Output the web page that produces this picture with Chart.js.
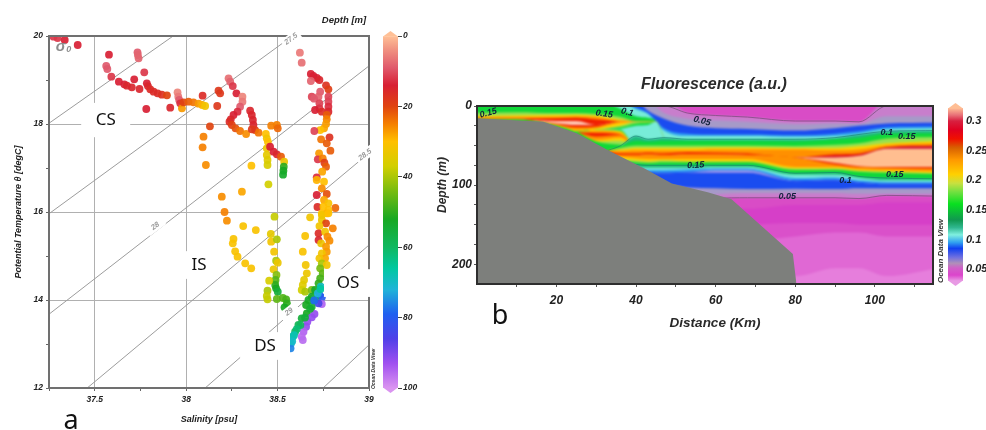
<!DOCTYPE html>
<html>
<head>
<meta charset="utf-8">
<style>
  html, body { margin: 0; padding: 0; background: #fff; overflow: hidden; width: 986px; height: 430px; }
  .box { position: absolute; top: 0; height: 430px; }
  canvas { filter: blur(0.55px); }
  #fieldClip { position: absolute; left: 477px; top: 106px; width: 456px; height: 178px; overflow: hidden; }
  #fieldInner { position: absolute; left: -4px; top: -4px; width: 464px; height: 186px; }
  #field { filter: blur(1.1px); }
</style>
<script src="https://cdn.jsdelivr.net/npm/chart.js@4/dist/chart.umd.min.js"></script>
</head>
<body>
<div class="box" style="left:0;width:380px"><canvas id="ts"></canvas></div>
<div class="box" style="left:378px;width:52px"><canvas id="depthBar"></canvas></div>
<div id="fieldClip"><div id="fieldInner"><canvas id="field"></canvas></div></div>
<div class="box" style="left:430px;width:515px"><canvas id="section"></canvas></div>
<div class="box" style="left:944px;width:42px"><canvas id="fluorBar"></canvas></div>
<script>
// panel a: samples
const salinity = [
  37.275,37.297,37.336,37.407,37.578,37.734,37.736,37.740,37.563,37.569,
  37.591,37.632,37.662,37.676,37.703,37.716,37.745,37.771,37.785,37.791,
  37.804,37.822,37.844,37.867,37.895,37.782,37.913,37.953,37.957,37.962,
  37.968,37.977,37.986,38.013,38.040,38.068,38.088,38.104,38.090,38.177,
  38.186,38.170,38.232,38.241,38.255,38.275,38.308,38.308,38.295,38.281,
  38.259,38.244,38.237,38.250,38.270,38.295,38.328,38.350,38.359,38.365,
  38.368,38.377,38.396,38.359,38.130,38.095,38.090,38.108,38.436,38.441,
  38.447,38.441,38.441,38.445,38.445,38.459,38.478,38.496,38.519,38.536,
  38.534,38.532,38.530,38.465,38.496,38.501,38.357,38.450,38.305,38.195,
  38.210,38.223,38.312,38.381,38.483,38.463,38.465,38.496,38.259,38.255,
  38.268,38.281,38.323,38.356,38.481,38.492,38.501,38.478,38.494,38.489,
  38.487,38.492,38.501,38.454,38.445,38.441,38.445,38.496,38.529,38.547,
  38.551,38.538,38.678,38.651,38.638,38.654,38.660,38.645,38.638,38.632,
  38.651,38.687,38.622,38.632,38.682,38.696,38.715,38.729,38.682,38.765,
  38.778,38.733,38.724,38.687,38.700,38.778,38.778,38.778,38.778,38.729,
  38.729,38.705,38.742,38.769,38.769,38.765,38.754,38.733,38.701,38.784,
  38.738,38.769,38.789,38.727,38.720,38.747,38.756,38.765,38.744,38.714,
  38.714,38.754,38.742,38.714,38.769,38.754,38.778,38.718,38.816,38.751,
  38.778,38.742,38.769,38.742,38.778,38.742,38.765,38.802,38.729,38.724,
  38.760,38.773,38.724,38.784,38.738,38.765,38.769,38.742,38.760,38.729,
  38.742,38.769,38.733,38.747,38.733,38.724,38.736,38.705,38.729,38.687,
  38.742,38.669,38.705,38.656,38.687,38.742,38.724,38.660,38.702,38.687,
  38.632,38.614,38.663,38.656,38.642,38.632,38.638,38.596,38.583,38.574,
  38.571,38.678,38.650,38.720,38.735,38.700,38.625,38.605,38.590,38.580
];
const theta = [
  19.985,19.954,19.909,19.795,19.576,19.629,19.568,19.492,19.318,19.250,
  19.076,18.962,18.901,18.871,18.833,19.015,18.795,19.174,18.924,18.863,
  18.788,18.735,18.697,18.666,18.651,18.341,18.371,18.720,18.621,18.545,
  18.470,18.356,18.492,18.507,18.492,18.462,18.432,18.409,18.644,18.757,
  18.697,18.409,19.038,18.962,18.863,18.697,18.621,18.507,18.394,18.280,
  18.204,18.106,18.053,17.977,17.901,17.841,17.773,18.303,18.204,18.091,
  17.977,17.863,17.803,17.879,17.947,17.712,17.470,17.068,17.773,17.674,
  17.598,17.447,17.295,17.182,17.068,17.485,17.371,17.310,17.257,17.144,
  17.030,16.939,16.848,17.962,17.977,17.901,17.053,16.629,16.462,16.348,
  16.000,15.803,15.681,15.590,15.894,15.500,15.325,15.378,15.386,15.287,
  15.106,14.984,14.833,14.719,15.098,14.893,14.848,14.697,14.568,14.454,
  14.341,14.265,14.189,14.439,14.212,14.091,14.015,14.023,14.045,14.015,
  13.924,13.833,15.878,15.454,15.098,14.795,14.606,14.454,14.341,14.227,
  14.189,14.227,19.621,19.394,19.136,19.091,19.045,19.000,18.977,18.879,
  18.788,18.735,18.621,18.621,18.576,18.621,18.507,18.394,18.280,18.470,
  18.356,18.318,18.280,18.205,18.106,18.000,17.901,17.863,17.841,17.697,
  17.651,17.561,17.394,17.333,17.197,17.220,17.121,17.030,16.917,16.788,
  16.727,16.689,16.538,16.386,16.409,16.273,16.197,16.114,16.091,16.121,
  16.045,15.970,15.970,15.932,15.970,15.818,15.742,15.628,15.681,15.515,
  15.553,15.439,15.363,15.348,15.287,15.212,15.098,15.060,14.947,14.947,
  14.833,14.795,14.719,14.606,14.492,14.379,14.303,14.227,14.114,14.076,
  14.060,14.000,14.000,13.886,13.848,13.909,13.924,13.697,13.682,13.606,
  13.583,13.432,13.507,13.394,13.280,13.166,13.091,13.280,13.166,13.015,
  12.901,13.800,13.600,14.150,14.250,13.990,13.430,13.340,13.200,13.060
];
const sampleDepth = [
  12,12,14,14,14,9,8,8,9,9,
  12,14,14,15,15,14,15,12,14,15,
  16,16,16,17,20,14,15,5,6,9,
  13,27,20,22,24,27,29,32,16,18,
  18,18,7,8,12,14,5,6,9,13,
  14,15,16,19,21,24,26,15,15,15,
  15,19,24,18,20,25,25,26,30,32,
  30,33,34,35,36,14,14,15,22,33,
  50,52,53,25,25,23,30,37,28,26,
  25,26,31,31,38,34,32,40,31,31,
  31,31,31,31,32,40,33,33,43,47,
  50,52,55,36,40,38,38,46,47,48,
  50,52,32,31,31,32,33,34,35,37,
  40,44,6,7,14,14,14,15,8,17,
  19,9,8,11,9,11,11,13,15,11,
  12,14,16,22,25,27,28,30,11,17,
  24,22,22,27,12,25,19,22,28,13,
  29,30,26,14,21,28,31,16,23,30,
  30,30,29,32,30,33,20,25,32,16,
  32,26,15,26,33,27,27,32,28,32,
  40,32,44,46,48,50,70,53,78,53,
  80,53,60,52,54,95,85,52,92,92,
  55,58,92,92,95,96,96,60,65,72,
  76,54,55,72,66,78,60,62,68,70
];

// isopycnals as [S0, T0, S1, T1]
const sigmaLines = [
  [37.251,18.02,37.929,20],
  [37.253,15.97,38.581,20],
  [37.251,13.68,39,19.32],
  [37.459,12,39,17.34],
  [38.104,12,39,15.25],
  [38.749,12,39,12.98]
];
const sigmaLabels = [["27.5",38.574,19.93],["28",37.831,15.68],["28.5",38.978,17.30],["29",38.563,13.73]];
// water masses: name, S range, T range
const waterMasses = [
  ["CS",37.426,37.694,18.48,17.70],
  ["IS",37.967,38.175,15.11,14.48],
  ["OS",38.754,39.016,14.70,14.07],
  ["DS",38.295,38.568,13.27,12.64]
];

const salinityTicks = [37.25,37.5,37.75,38,38.25,38.5,38.75,39];
const thetaTicks = [12,13,14,15,16,17,18,19,20];
const depthBarTicks = [0,20,40,60,80,100];
const fluorBarTicks = [0.05,0.1,0.15,0.2,0.25,0.3];
const distanceTicks = [10,20,30,40,50,60,70,80,90,100,110];
const sectionDepthTicks = [0,25,50,75,100,125,150,175,200];

const depthStopValues = [0,4,9,14,20,25,30,37,44,52,60,66,72,79,86,93,100];
const depthStopColors = ["#ffc096","#f09080","#e05a6c","#d82034","#e04410","#f58000","#ffc000","#d2cf00","#78bc10","#18a822","#10b860","#00c8a0","#20b4d8","#2060f0","#5040e8","#a050f0","#da94f0"];
const fluorStopValues = [0.03,0.04,0.052,0.06,0.07,0.085,0.095,0.108,0.12,0.133,0.16,0.18,0.195,0.21,0.235,0.255,0.27,0.285,0.3,0.31,0.322];
const fluorStopColors = ["#e89ae4","#dc44cc","#d060c8","#b090b8","#7070e0","#1040f0","#30a0f0","#80f0e0","#30b890","#109850","#08e020","#70e040","#c8e040","#ffd000","#ff9800","#d86000","#f01000","#e00020","#d82040","#e87078","#ffbe94"];

// panel b: top depth of each colour band, read column by column
const midKm = [33,36,40,43,47,53,60,68,80,90,96,103,116];
const magentaTop = [0,0,0,0,0,0,0,0,0,0,0,0,0];
const lilacTop = [0,0,0,0,0,9,12,14,19,19,20,0,0];
const violetTop = [0,0,0,0,9,16,18,20,23,22,22,13,13];
const blueTop = [0,0,0,6,16,25,28,29,31,28,25,22,21];
const skyTop = [0,0,2,9,28,35,36,36,37,35,32,27,26];
const cyanTop = [0,0,4,10,31,38,38,38,39,38,35,29.5,28];

const leftKm = [-2,10,20,25,30,36,40,43,45,47];
const green1Top = [0,0,0,0,0,3,13,15,19,40];
const lime1Top = [9,8,9,9,10,13.5,19,19,19.5,40];
const yellow1Top = [13,12,11.5,11,12,17,19,19,19.5,40];
const orange1Top = [14,14,13.5,13,14,19,19,19,19.5,40];
const red1Top = [16,16,15.5,15,17,19,19,19,19.5,40];
const coreTop = [17,17,19,19,24,19.5,19.5,19.5,19.5,40];
const red2Top = [17,17,22,24,24,19.5,19.5,19.5,19.5,40];
const orange2Top = [17,17,23,27,26,19.5,19.5,19.5,19.5,40];
const yellow2Top = [17,17,24,30,28,21,19.5,19.5,19.5,40];
const lime2Top = [17,17,25,32,30,25,19.5,19.5,19.5,40];
const green2Top = [17,17,25,32,30,27,22,21,19.5,40];
const cyan2Top = [17,17,25,32,30,29,25,24,19.5,40];
const green3Top = [17,17,25,32,30,30,50,50,50,50];
const yellow3Top = [17,17,25,33,30,31.5,50,50,50,50];
const orange3Top = [17,17,25,33,31.6,34,50,50,50,50];
const red3Top = [17,17,25,33,34,36,50,50,50,50];
const orange4Top = [17,17,25,33,38.5,36.5,50,50,50,50];
const yellow4Top = [17,17,25,33,43,40,50,50,50,50];
const lime4Top = [17,17,25,33,45,44,50,50,50,50];
const green4Top = [17,17,25,33,45,49,50,50,50,50];

const tealTop = [56,50.5,38,42,40,42,42,42,42,40,36,32,31];
const greenTop = [56,51,44,45,44,44,44,44,44.5,42,40,35,34.5];
const limeTop = [56,53,50,50,50,50,50,50,50.5,49,47,41,39];
const yellowTop = [56,55,53,53,53,53,52.5,52.5,53,53,51,47,44];
const orangeTop = [56,57,56,56,56,56,55,55,55,56,55,49.5,47];
const redTop = [58,60,60,59,60,58.5,59,60,65,61,60,52,50];
const crimsonTop = [62,62,62,61,62,61,61,62,65,63,61.5,52.5,50.5];
const peachTop = [62,62,62,61,62,61,61,62,65,65,63,54,54];
const red6Top = [62,62,62,61,62,61,61,62,65,72,76,77,77];
const orange6Top = [62,62,62,61,62,61,61,62,65,74,77,78,79];
const yellow6Top = [62,64,66,67,67,67,67,67,77,77,80,81,83];
const lime6Top = [62.5,67,69,70,69,70,70,70,79,79,82,83,85];
const green6Top = [63,69,71,72,71,71,71,71,81,80.5,83,84.5,86];
const teal6Top = [64,71,74,75,75,75,75,75,85,84,89,91,92];
const cyan6Top = [65,72,77,78,78,78,77,77,87,87,91,94,94];
const sky6Top = [66,73,79,81,81,80,79,79,91,90,94,96,96];
const blue6Top = [67,74,80,83,84,83,80.5,80.5,94,93,96,98,98];
const patchEdgeTop = [68,75,81,84,85,84,81,81,95,94,97,99,99];
const patchTop = [68,75,81,84,85,84,82,82,95,94,97,99,99];
const blue7Top = [68,75,81,84,85,84,84.5,84.5,95,94,97,99,99];
const violet7Top = [100,100,100,100,100,103,104,105,104.5,105,104,104,104];
const lilac7Top = [120,120,120,120,120,120,112,110,110,110,111,111,111];
const magenta7Top = [122,122,122,122,122,122,117,116,116,116,117,113,114];
const deepMagentaTop = [130,130,130,130,130,130,130,130,125,125,125,122,122];
const midMagentaTop = [150,150,150,150,150,150,150,150,148,148,150,150,150];
const paleMagentaTop = [170,170,170,170,170,170,170,170,165,160,160,165,165];
const palestMagentaTop = [215,215,215,215,215,215,215,215,215,205,205,215,205];

const bottomKm = [-2,16.7,25,33,42.5,49,58,64,79.4,80.3];
const bottomDepth = [15,20,34,56,80,98,109,118,187,225];

const contourLabels = [
  ["0.15",2.9,9,-15],["0.15",32,10,8],["0.1",37.8,8,15],["0.05",56.6,19,15],["0.15",55,75,-3],
  ["0.05",78,114,0],["0.1",92.6,94,0],["0.15",105,86,0],["0.1",103,33,0],["0.15",108,38,0]
];

const bandColors = {
  magenta:"#d94cc6", lilac:"#c87ecc", violet:"#a69ac8", blue:"#1a4cf0", sky:"#30a0f0", cyan:"#78ecd8",
  teal:"#20b880", green:"#10d838", lime:"#98e050", yellow:"#ffd000", orange:"#ff9000", red:"#f02000",
  crimson:"#d01838", core:"#ffc8b4", peach:"#ffbe90", patchEdge:"#5898f0", patch:"#a898e8",
  deepMagenta:"#d63fc8", midMagenta:"#da50ca", paleMagenta:"#e068d4", palestMagenta:"#e67edc", gray:"#7d7f7c"
};

// painted in this order, each band filled down to the plot bottom
const bands = [
  ["magenta",midKm,magentaTop],["lilac",midKm,lilacTop],["violet",midKm,violetTop],["blue",midKm,blueTop],["sky",midKm,skyTop],["cyan",midKm,cyanTop],
  ["green",leftKm,green1Top],["lime",leftKm,lime1Top],["yellow",leftKm,yellow1Top],["orange",leftKm,orange1Top],["red",leftKm,red1Top],["core",leftKm,coreTop],
  ["red",leftKm,red2Top],["orange",leftKm,orange2Top],["yellow",leftKm,yellow2Top],["lime",leftKm,lime2Top],["green",leftKm,green2Top],["cyan",leftKm,cyan2Top],
  ["green",leftKm,green3Top],["yellow",leftKm,yellow3Top],["orange",leftKm,orange3Top],["red",leftKm,red3Top],["orange",leftKm,orange4Top],["yellow",leftKm,yellow4Top],
  ["lime",leftKm,lime4Top],["green",leftKm,green4Top],
  ["teal",midKm,tealTop],["green",midKm,greenTop],["lime",midKm,limeTop],["yellow",midKm,yellowTop],["orange",midKm,orangeTop],["red",midKm,redTop],
  ["crimson",midKm,crimsonTop],["peach",midKm,peachTop],["red",midKm,red6Top],["orange",midKm,orange6Top],["yellow",midKm,yellow6Top],["lime",midKm,lime6Top],
  ["green",midKm,green6Top],["teal",midKm,teal6Top],["cyan",midKm,cyan6Top],["sky",midKm,sky6Top],["blue",midKm,blue6Top],["patchEdge",midKm,patchEdgeTop],
  ["patch",midKm,patchTop],["blue",midKm,blue7Top],["violet",midKm,violet7Top],["lilac",midKm,lilac7Top],["magenta",midKm,magenta7Top],
  ["deepMagenta",midKm,deepMagentaTop],["midMagenta",midKm,midMagentaTop],["paleMagenta",midKm,paleMagentaTop],["palestMagenta",midKm,palestMagentaTop]
];
const contourLines = [lilacTop, magenta7Top];
const tealContours = [tealTop, teal6Top];

const sans = '"Liberation Sans", Arial, sans-serif';
Chart.defaults.font.family = sans;
Chart.defaults.font.style = "italic";
Chart.defaults.font.weight = "bold";
Chart.defaults.color = "#222";
Chart.defaults.animation = false;
Chart.defaults.plugins.legend.display = false;
Chart.defaults.plugins.tooltip.enabled = false;
Chart.defaults.responsive = true;
Chart.defaults.maintainAspectRatio = false;

const hexToRgb = (hex) => [1, 3, 5].map((i) => parseInt(hex.slice(i, i + 2), 16));

const depthColor = (depth) => {
  let i = 0;
  while (i < depthStopValues.length - 2 && depth > depthStopValues[i + 1]) i++;
  const f = (depth - depthStopValues[i]) / (depthStopValues[i + 1] - depthStopValues[i]);
  const a = hexToRgb(depthStopColors[i]);
  const b = hexToRgb(depthStopColors[i + 1]);
  return `rgba(${a.map((c, k) => Math.round(c + (b[k] - c) * f)).join(",")},0.92)`;
};

const drawText = (ctx, text, x, y, font, color, angle) => {
  ctx.save();
  ctx.translate(x, y);
  ctx.rotate(((angle || 0) * Math.PI) / 180);
  ctx.font = font;
  ctx.fillStyle = color || "#222";
  ctx.textAlign = "center";
  ctx.textBaseline = "middle";
  ctx.fillText(text, 0, 0);
  ctx.restore();
};

const setTicks = (values) => (scale) => {
  scale.ticks = values.map((value) => ({ value }));
};

const fixedWidth = (w) => (scale) => { scale.width = w; };
const fixedHeight = (h) => (scale) => { scale.height = h; };

const zipped = (xs, ys) => xs.map((x, i) => ({ x, y: ys[i] }));

new Chart(document.getElementById("ts"), {
  type: "scatter",
  data: {
    datasets: [
      {
        data: zipped(salinity, theta),
        pointRadius: 3.9,
        pointBorderWidth: 0,
        pointBackgroundColor: sampleDepth.map(depthColor),
        order: 1
      },
      ...sigmaLines.map((l) => ({
        data: [{ x: l[0], y: l[1] }, { x: l[2], y: l[3] }],
        showLine: true,
        pointRadius: 0,
        borderColor: "#9c9c9c",
        borderWidth: 1,
        order: 2
      }))
    ]
  },
  options: {
    layout: { padding: { left: 13.5, top: 36, right: 11, bottom: 5 } },
    scales: {
      x: {
        type: "linear",
        min: 37.25,
        max: 39,
        afterBuildTicks: setTicks(salinityTicks),
        afterFit: fixedHeight(37),
        border: { display: false },
        grid: {
          color: (c) => ([37.5, 38, 38.5].includes(c.tick && c.tick.value) ? "#b0b0b0" : "transparent"),
          tickColor: "#666",
          tickLength: 3
        },
        ticks: {
          font: { size: 8.5 },
          padding: 4,
          maxRotation: 0,
          autoSkip: false,
          callback: (v) => (v % 0.5 === 0 ? v : "")
        },
        title: { display: true, text: "Salinity [psu]", font: { size: 9 }, padding: { top: 0, bottom: 0 } }
      },
      y: {
        min: 12,
        max: 20,
        afterBuildTicks: setTicks(thetaTicks),
        afterFit: fixedWidth(35.5),
        border: { display: false },
        grid: {
          color: (c) => ([14, 16, 18].includes(c.tick && c.tick.value) ? "#b0b0b0" : "transparent"),
          tickColor: "#666",
          tickLength: 3
        },
        ticks: {
          font: { size: 8.5 },
          padding: 3,
          autoSkip: false,
          callback: (v) => (v % 2 === 0 ? v : "")
        },
        title: { display: true, text: "Potential Temperature θ [degC]", font: { size: 9 }, padding: { top: 0, bottom: 0 } }
      }
    }
  },
  plugins: [{
    id: "tsOverlay",
    afterDraw(chart) {
      const { ctx, chartArea: a, scales: { x, y } } = chart;
      ctx.save();
      ctx.strokeStyle = "#707070";
      ctx.lineWidth = 2;
      ctx.strokeRect(a.left, a.top, a.width, a.height);
      sigmaLabels.forEach(([t, s, th]) => {
        const px = x.getPixelForValue(s);
        const py = y.getPixelForValue(th);
        ctx.save();
        ctx.translate(px, py);
        ctx.rotate((-37 * Math.PI) / 180);
        ctx.fillStyle = "#fff";
        ctx.fillRect(-10, -5, 20, 10);
        ctx.restore();
        drawText(ctx, t, px, py, `italic bold 7.5px ${sans}`, "#9a9a9a", -37);
      });
      const sx = x.getPixelForValue(37.33);
      const sy = y.getPixelForValue(19.75);
      drawText(ctx, "σ", sx - 3, sy, `italic bold 15px ${sans}`, "#8c8c8c");
      drawText(ctx, "0", sx + 5, sy + 3, `italic bold 9px ${sans}`, "#8c8c8c");
      waterMasses.forEach(([t, s0, s1, t0, t1]) => {
        const x0 = x.getPixelForValue(s0);
        const x1 = x.getPixelForValue(s1);
        const y0 = y.getPixelForValue(t0);
        const y1 = y.getPixelForValue(t1);
        ctx.fillStyle = "#fff";
        ctx.fillRect(x0, y0, x1 - x0, y1 - y0);
        drawText(ctx, t, (x0 + x1) / 2, (y0 + y1) / 2, `normal 17px "Noto Sans", sans-serif`, "#111");
      });
      drawText(ctx, "a", 71, 421, `normal 27px "Noto Sans", sans-serif`, "#111");
      drawText(ctx, "Depth [m]", 344, 20, `italic bold 9.5px ${sans}`, "#222");
      drawText(ctx, "Ocean Data View", 374, 369, `italic bold 5px ${sans}`, "#333", -90);
      ctx.restore();
    }
  }]
});

const gradientBar = (stops, colors) => (c) => {
  const { chart } = c;
  const y = chart.scales.y;
  if (!chart.chartArea || !y) return "transparent";
  const p0 = y.getPixelForValue(stops[0]);
  const p1 = y.getPixelForValue(stops[stops.length - 1]);
  if (!isFinite(p0) || !isFinite(p1)) return "transparent";
  const grad = chart.ctx.createLinearGradient(0, p0, 0, p1);
  stops.forEach((v, i) => {
    grad.addColorStop((v - stops[0]) / (stops[stops.length - 1] - stops[0]), colors[i]);
  });
  return grad;
};

const barTips = (topColor, bottomColor) => ({
  id: "barTips",
  afterDraw(chart) {
    const { ctx, chartArea: a } = chart;
    const mid = (a.left + a.right) / 2;
    ctx.save();
    ctx.fillStyle = topColor;
    ctx.beginPath();
    ctx.moveTo(a.left, a.top + 0.5);
    ctx.lineTo(mid, a.top - 5);
    ctx.lineTo(a.right, a.top + 0.5);
    ctx.fill();
    ctx.fillStyle = bottomColor;
    ctx.beginPath();
    ctx.moveTo(a.left, a.bottom - 0.5);
    ctx.lineTo(mid, a.bottom + 5);
    ctx.lineTo(a.right, a.bottom - 0.5);
    ctx.fill();
    ctx.restore();
  }
});

new Chart(document.getElementById("depthBar"), {
  type: "bar",
  data: {
    labels: [""],
    datasets: [{
      data: [[0, 100]],
      barPercentage: 1,
      categoryPercentage: 1,
      backgroundColor: gradientBar(depthStopValues, depthStopColors)
    }]
  },
  options: {
    layout: { padding: { left: 5, top: 36, bottom: 42, right: 0 } },
    scales: {
      x: { display: false },
      y: {
        position: "right",
        reverse: true,
        min: 0,
        max: 100,
        afterBuildTicks: setTicks(depthBarTicks),
        afterFit: fixedWidth(32),
        border: { display: false },
        grid: { drawOnChartArea: false, tickColor: "#444", tickLength: 4 },
        ticks: { font: { size: 8.5 }, padding: 1 }
      }
    }
  },
  plugins: [barTips("#ffc096", "#da94f0")]
});

const monotone = { cubicInterpolationMode: "monotone", pointRadius: 0 };

// the colour field sits in its own blurred canvas, 4px wider than the plot box on every side
const overscanSurface = -6;
new Chart(document.getElementById("field"), {
  type: "line",
  data: {
    datasets: bands.map(([name, km, top], i) => ({
      ...monotone,
      data: zipped(km, top.map((z) => (z === 0 ? overscanSurface : z))),
      borderWidth: 0,
      backgroundColor: bandColors[name],
      fill: "start",
      order: bands.length + 1 - i
    }))
  },
  options: {
    layout: { padding: 0 },
    scales: {
      x: { type: "linear", display: false, min: -0.955, max: 115.6 },
      y: { reverse: true, display: false, min: -5.06, max: 230.06 }
    }
  }
});

new Chart(document.getElementById("section"), {
  type: "line",
  data: {
    datasets: [
      {
        data: zipped(bottomKm, bottomDepth),
        pointRadius: 0,
        borderWidth: 0,
        tension: 0,
        backgroundColor: bandColors.gray,
        fill: "start",
        order: 1
      },
      ...contourLines.map((top) => ({
        ...monotone,
        data: zipped(midKm, top),
        borderColor: "#7d4f80",
        borderWidth: 0.8,
        fill: false,
        order: 2
      })),
      ...tealContours.map((top) => ({
        ...monotone,
        data: zipped(midKm, top),
        borderColor: "rgba(20,110,110,0.7)",
        borderWidth: 0.7,
        fill: false,
        order: 2
      }))
    ]
  },
  options: {
    layout: { padding: { left: 7, top: 106, right: 12, bottom: 99 } },
    scales: {
      x: {
        type: "linear",
        min: 0.05,
        max: 114.6,
        afterBuildTicks: setTicks(distanceTicks),
        afterFit: fixedHeight(47),
        border: { display: false },
        grid: { drawOnChartArea: false, tickColor: "#555", tickLength: 3 },
        ticks: {
          font: { size: 12 },
          padding: 6,
          maxRotation: 0,
          autoSkip: false,
          callback: (v) => (v % 20 === 0 ? v : "")
        }
      },
      y: {
        reverse: true,
        min: 0,
        max: 225,
        afterBuildTicks: setTicks(sectionDepthTicks),
        afterFit: fixedWidth(40),
        border: { display: false },
        grid: { drawOnChartArea: false, tickColor: "#555", tickLength: 3 },
        ticks: {
          font: { size: 12 },
          padding: 2,
          autoSkip: false,
          callback: (v) => (v % 100 === 0 ? v : "")
        }
      }
    }
  },
  plugins: [{
    id: "sectionOverlay",
    afterDraw(chart) {
      const { ctx, chartArea: a, scales: { x, y } } = chart;
      ctx.save();
      ctx.strokeStyle = "#2e2e2e";
      ctx.lineWidth = 2;
      ctx.strokeRect(a.left, a.top, a.width, a.height);
      contourLabels.forEach(([t, km, z, angle]) => {
        drawText(ctx, t, x.getPixelForValue(km), y.getPixelForValue(z), `italic bold 9px ${sans}`, "#10203a", angle);
      });
      drawText(ctx, "Fluorescence (a.u.)", 284, 85, `italic bold 16px ${sans}`, "#2a2a2a");
      drawText(ctx, "Distance (Km)", 285, 323, `italic bold 13.5px ${sans}`, "#2a2a2a");
      drawText(ctx, "Depth (m)", 13, 185, `italic bold 12px ${sans}`, "#2a2a2a", -90);
      drawText(ctx, "b", 70, 316, `normal 27px "Noto Sans", sans-serif`, "#111");
      drawText(ctx, "Ocean Data View", 511, 251, `italic bold 8px ${sans}`, "#333", -90);
      ctx.restore();
    }
  }]
});

new Chart(document.getElementById("fluorBar"), {
  type: "bar",
  data: {
    labels: [""],
    datasets: [{
      data: [[0.03, 0.322]],
      barPercentage: 1,
      categoryPercentage: 1,
      backgroundColor: gradientBar(fluorStopValues, fluorStopColors)
    }]
  },
  options: {
    layout: { padding: { left: 4, top: 108, bottom: 149, right: 0 } },
    scales: {
      x: { display: false },
      y: {
        position: "right",
        min: 0.03,
        max: 0.322,
        afterBuildTicks: setTicks(fluorBarTicks),
        afterFit: fixedWidth(23),
        border: { display: false },
        grid: { display: false, drawTicks: false },
        ticks: { font: { size: 11 }, padding: 3, callback: (v) => String(v) }
      }
    }
  },
  plugins: [barTips("#ffbe94", "#e89ae4")]
});
</script>
</body>
</html>
